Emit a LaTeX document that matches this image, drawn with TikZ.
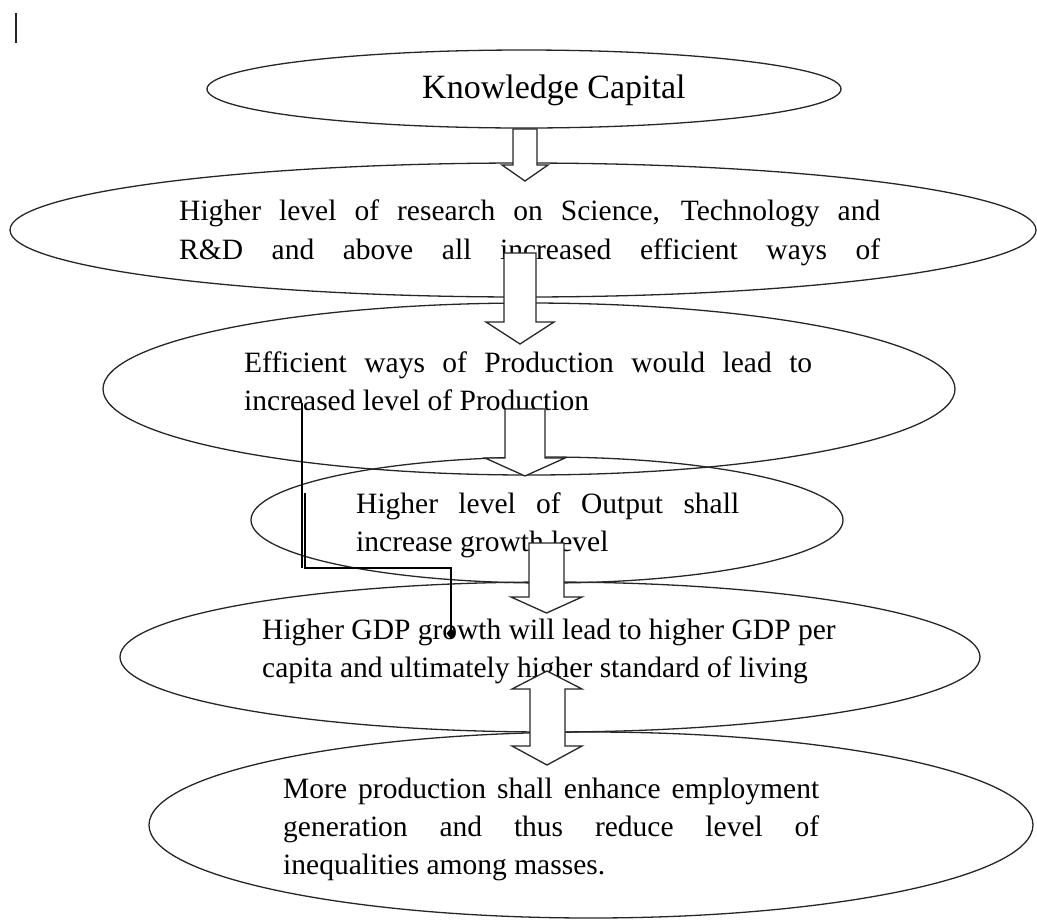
\documentclass[tikz,border=0pt]{standalone}
\usepackage{fontspec}
\setmainfont{Liberation Serif}
\usetikzlibrary{shapes.geometric,arrows.meta}
\begin{document}
\begin{tikzpicture}[x=1pt,y=-1pt,
  oval/.style={ellipse,draw=black!85,line width=1.3pt,inner sep=0pt,outer sep=0pt},
  txt/.style={anchor=base west,inner sep=0pt,font=\fontsize{29.5}{38}\selectfont},
  bigtxt/.style={anchor=base west,inner sep=0pt,font=\fontsize{34}{40}\selectfont},
  blockarrow/.style={draw=black!85,fill=white,line width=1.3pt,line join=miter},
  conn/.style={draw=black,line width=1.2pt}]
\useasboundingbox (0,0) rectangle (1037,922);

% cursor-like bar at top left
\coordinate (b0) at (16,13);
\coordinate (b1) at (16,43);
\draw[line width=1.5pt,black!85] (b0) -- (b1);

% ellipses
\node[oval,minimum width=634pt,minimum height=78pt]  (e1) at (524,89)  {};
\node[oval,minimum width=1026pt,minimum height=134pt] (e2) at (523,230) {};
\node[oval,minimum width=852pt,minimum height=172pt] (e3) at (529,389) {};
\node[oval,minimum width=592pt,minimum height=126pt] (e4) at (547,520) {};
\node[oval,minimum width=860pt,minimum height=150pt] (e5) at (550,657) {};
\node[oval,minimum width=884pt,minimum height=186pt] (e6) at (591,825) {};

% texts
\node[bigtxt] (t1) at (422,98) {Knowledge Capital};
\node[txt] (t2a) at (179,220) {\makebox[701pt][s]{Higher level of research on Science, Technology and}};
\node[txt] (t2b) at (179,259) {\makebox[701pt][s]{R\&D and above all increased efficient ways of}};
\node[txt] (t3a) at (244,372) {\makebox[568pt][s]{Efficient ways of Production would lead to}};
\node[txt] (t3b) at (244,410) {increased level of Production};
\node[txt] (t4a) at (356,513) {\makebox[383pt][s]{Higher level of Output shall}};
\node[txt] (t4b) at (356,551) {increase growth level};
\node[txt] (t5a) at (262,639) {Higher GDP growth will lead to higher GDP per};
\node[txt] (t5b) at (262,677) {capita and ultimately higher standard of living};
\node[txt] (t6a) at (283,798) {\makebox[536pt][s]{More production shall enhance employment}};
\node[txt] (t6b) at (283,836) {\makebox[536pt][s]{generation and thus reduce level of}};
\node[txt] (t6c) at (283,874) {inequalities among masses.};

% block arrows
\path[blockarrow] (513,129) -- (513,165) -- (502,165) -- (525,181) -- (548,165) -- (537,165) -- (537,129) -- cycle;
\path[blockarrow] (504,253) -- (504,322) -- (486,322) -- (520,344) -- (554,322) -- (536,322) -- (536,253) -- cycle;
\path[blockarrow] (505,409) -- (505,458) -- (485,458) -- (525,476) -- (565,458) -- (545,458) -- (545,409) -- cycle;
\path[blockarrow] (529,543) -- (529,597) -- (511,597) -- (546.5,613) -- (582,597) -- (564,597) -- (564,543) -- cycle;
\path[blockarrow] (547,671) -- (582,689) -- (565,689) -- (565,746) -- (582,746) -- (547,765) -- (512,746) -- (530,746) -- (530,689) -- (512,689) -- cycle;

% elbow connector
\coordinate (c0) at (302,403);
\coordinate (c1) at (302,568);
\coordinate (c2) at (305,493);
\coordinate (c3) at (305,568);
\coordinate (c4) at (451,568);
\coordinate (c5) at (451,639);
\draw[conn] (c0) -- (c1);
\draw[conn,-{Diamond[length=11pt,width=9pt]}] (c2) -- (c3) -- (c4) -- (c5);
\end{tikzpicture}
\end{document}
